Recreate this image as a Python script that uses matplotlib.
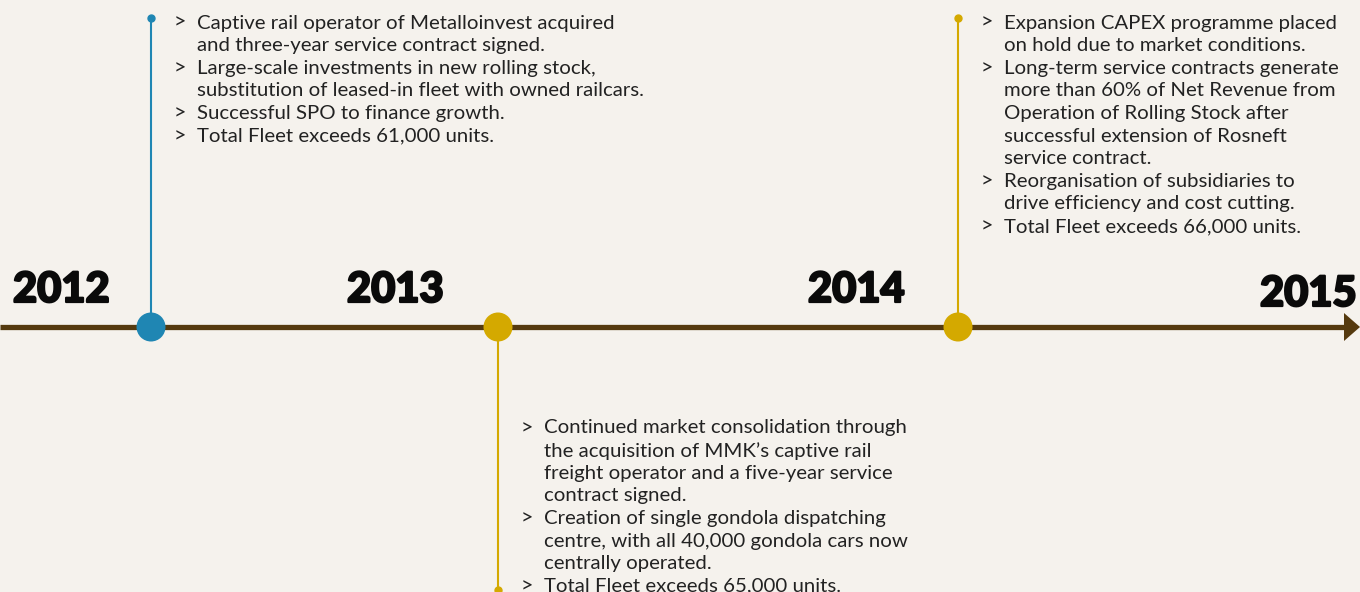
import matplotlib
matplotlib.use("Agg")
import matplotlib.pyplot as plt
import matplotlib.patheffects as pe
from matplotlib.patches import Circle, Polygon

# ---- data ----
years = ["2012", "2013", "2014", "2015"]
year_x = [12, 346, 807, 1259]
year_y = [302, 302, 302, 306]

events_x = [151, 498, 958]
events_color = ["#1f86b3", "#d4a900", "#d4a900"]
events_side = ["up", "down", "up"]
events_text = [
    [["Captive rail operator of Metalloinvest acquired", "and three-year service contract signed."],
     ["Large-scale investments in new rolling stock,", "substitution of leased-in fleet with owned railcars."],
     ["Successful SPO to finance growth."],
     ["Total Fleet exceeds 61,000 units."]],
    [["Continued market consolidation through", "the acquisition of MMK\u2019s captive rail",
      "freight operator and a five-year service", "contract signed."],
     ["Creation of single gondola dispatching", "centre, with all 40,000 gondola cars now",
      "centrally operated."],
     ["Total Fleet exceeds 65,000 units."]],
    [["Expansion CAPEX programme placed", "on hold due to market conditions."],
     ["Long-term service contracts generate", "more than 60% of Net Revenue from",
      "Operation of Rolling Stock after", "successful extension of Rosneft",
      "service contract."],
     ["Reorganisation of subsidiaries to", "drive efficiency and cost cutting."],
     ["Total Fleet exceeds 66,000 units."]],
]

BG = "#f5f2ed"
LINE = "#553a0f"
TXT = "#222222"

W, H = 1360, 592
fig = plt.figure(figsize=(W / 100, H / 100), dpi=100, facecolor=BG)
ax = fig.add_axes([0, 0, 1, 1])
ax.set_xlim(0, W)
ax.set_ylim(H, 0)
ax.axis("off")
ax.set_facecolor(BG)

axis_y = 327
ax.plot([0, 1347], [axis_y, axis_y], color=LINE, lw=3.8, solid_capstyle="butt", zorder=2)
ax.add_patch(Polygon([[1344, 313], [1360, axis_y], [1344, 341]], closed=True,
                     facecolor=LINE, edgecolor="none", zorder=2))

for yr, x, y in zip(years, year_x, year_y):
    ax.text(x + 1, y, yr, fontsize=30, fontweight="black", family="Lato",
            color="#0a0a0a", ha="left", va="baseline", zorder=3,
            path_effects=[pe.withStroke(linewidth=1.6, foreground="#0a0a0a")])

line_h = 22.6
for x, c, side, items in zip(events_x, events_color, events_side, events_text):
    if side == "up":
        top = 18
        ax.plot([x, x], [top, axis_y], color=c, lw=1.5, zorder=1)
        ax.plot([x], [top], "o", color=c, ms=5, zorder=3)
        y0 = 23
    else:
        bot = 590
        ax.plot([x, x], [axis_y, bot], color=c, lw=1.5, zorder=1)
        ax.plot([x], [bot], "o", color=c, ms=5, zorder=3)
        y0 = 428
    ax.add_patch(Circle((x, axis_y), 14.5, facecolor=c, edgecolor="none", zorder=4))
    y = y0
    for item in items:
        ax.text(x + 23, y, ">", fontsize=15.5, family="Lato", color=TXT,
                ha="left", va="center")
        for ln in item:
            ax.text(x + 46, y, ln, fontsize=14.7, family="Lato", color=TXT,
                    ha="left", va="center")
            y += line_h

fig.savefig("out.png", dpi=100, facecolor=BG)
